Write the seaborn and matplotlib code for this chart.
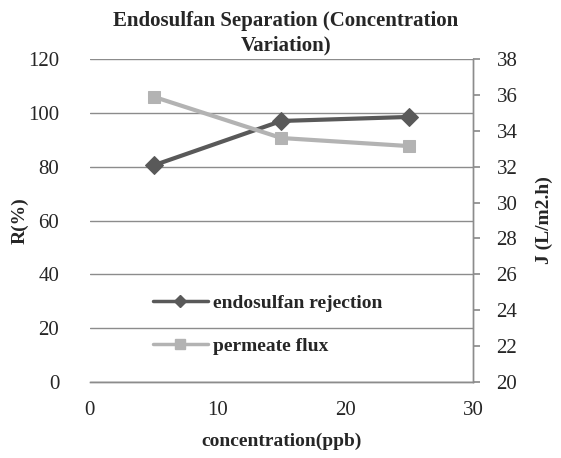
import pandas as pd
import matplotlib
matplotlib.use('Agg')
import matplotlib.pyplot as plt
import seaborn as sns
from matplotlib.lines import Line2D

# ==================== 数据 ====================
concentration = [5, 15, 25]
rejection = [80.5, 97, 98.5]
flux = [35.9, 33.6, 33.15]

df = pd.DataFrame({'concentration': concentration, 'rejection': rejection, 'flux': flux})

sns.set_theme(style="white")
plt.rcParams['font.family'] = ['Liberation Serif', 'DejaVu Serif']

dark = '#595959'
light = '#b3b3b3'
axis_col = '#8c8c8c'

fig = plt.figure(figsize=(5.61, 4.58), dpi=100)
ax = fig.add_axes([0.160, 0.166, 0.683, 0.705])
ax2 = ax.twinx()

sns.lineplot(data=df, x='concentration', y='rejection', ax=ax, color=dark,
             marker='D', markersize=9, linewidth=3, markeredgecolor=dark, zorder=3)
sns.lineplot(data=df, x='concentration', y='flux', ax=ax2, color=light,
             marker='s', markersize=9, linewidth=3, markeredgecolor=light, zorder=3)

ax.set_xlim(0, 30)
ax.set_ylim(0, 120)
ax.set_xticks([0, 10, 20, 30])
ax.set_yticks(range(0, 121, 20))
ax2.set_ylim(20, 38)
ax2.set_yticks(range(20, 39, 2))

ax.yaxis.grid(True, color=axis_col, linewidth=1)
ax.xaxis.grid(False)
ax.set_axisbelow(True)

for a in (ax, ax2):
    for s in a.spines.values():
        s.set_color(axis_col)
        s.set_linewidth(1)
    a.spines['top'].set_visible(False)
ax.spines['left'].set_visible(False)
ax2.spines['left'].set_visible(False)

ax.tick_params(axis='x', direction='inout', length=8, color=axis_col, labelsize=15, pad=10)
ax.tick_params(axis='y', length=0, labelsize=15, pad=22)
ax2.tick_params(axis='y', direction='out', length=5, color=axis_col, labelsize=15, pad=12)

ax.set_xlabel('concentration(ppb)', fontsize=14, fontweight='bold', labelpad=9)
ax.set_ylabel('R(%)', fontsize=14, fontweight='bold')
ax2.set_ylabel('J (L/m2.h)', fontsize=14, fontweight='bold')
ax.yaxis.set_label_coords(-0.16, 0.5)
ax2.yaxis.set_label_coords(1.165, 0.5)

fig.suptitle('Endosulfan Separation (Concentration\nVariation)', x=0.51, y=0.975,
             fontsize=15, fontweight='bold', linespacing=1.25)

handles = [Line2D([0], [0], color=dark, marker='D', markersize=6, linewidth=2.5),
           Line2D([0], [0], color=light, marker='s', markersize=7, linewidth=2.5)]
leg = ax.legend(handles, ['endosulfan rejection', 'permeate flux'], loc='lower left',
                bbox_to_anchor=(0.12, 0.03), frameon=False, handlelength=2.8,
                handletextpad=0.25, labelspacing=1.3, prop={'size': 14, 'weight': 'bold'})

fig.savefig('out.png', dpi=100)
